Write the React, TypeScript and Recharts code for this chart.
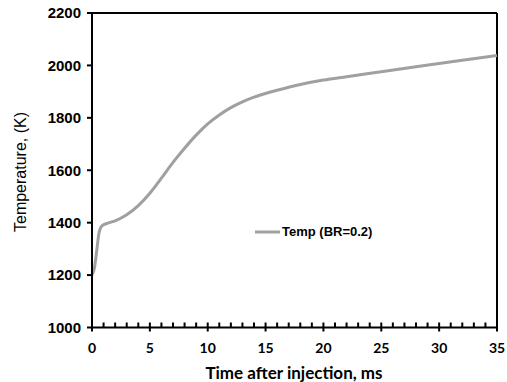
import { LineChart, Line, XAxis, YAxis, ReferenceLine, Legend, Label } from "recharts";

// time after injection, ms
const times = [0, 0.2, 0.4, 0.6, 0.8, 1, 1.5, 2, 3, 4, 5, 6, 7, 8, 9, 10, 11, 12, 13, 14, 15, 16, 18, 20, 22, 25, 28, 30, 32, 35];
// temperature, K (BR=0.2)
const temps = [1200, 1225, 1290, 1360, 1385, 1392, 1400, 1407, 1430, 1465, 1512, 1570, 1630, 1684, 1734, 1777, 1811, 1839, 1861, 1879, 1893, 1905, 1927, 1944, 1957, 1976, 1995, 2007, 2020, 2038];

const xTicks = Array.from({ length: 36 }, (_, i) => i);
const yTicks = [1000, 1200, 1400, 1600, 1800, 2000, 2200];

const data = times.map((t, i) => ({ t, temp: temps[i] }));

const LINE_COLOR = "#a0a0a0";

function XTick(props: any) {
    const { x, y, payload } = props;
    const major = payload.value % 5 === 0;
    return (
        <g>
            <line x1={x} x2={x} y1={y - 5} y2={major ? y + 4 : y} stroke="#000" strokeWidth={2} />
            {major && (
                <text x={x} y={y + 25} textAnchor="middle" fontFamily="Lato" fontWeight="bold" fontSize={14} fill="#000">
                    {payload.value}
                </text>
            )}
        </g>
    );
}

function LegendBox() {
    return (
        <div style={{ display: "flex", alignItems: "center", fontFamily: "Liberation Sans", fontWeight: "bold", fontSize: 13, color: "#000" }}>
            <svg width={27} height={6}>
                <line x1={0} x2={25} y1={3} y2={3} stroke={LINE_COLOR} strokeWidth={3} />
            </svg>
            <span>Temp (BR=0.2)</span>
        </div>
    );
}

export default function App() {
    return (
        <div style={{ position: "absolute", left: 0, top: 0 }}>
            <LineChart width={507} height={382} data={data} margin={{ top: 13, right: 10, left: 0, bottom: 0 }}>
                <XAxis
                    dataKey="t"
                    type="number"
                    domain={[0, 35]}
                    ticks={xTicks}
                    interval={0}
                    height={54.5}
                    tickSize={0}
                    tickMargin={0}
                    tickLine={false}
                    axisLine={{ stroke: "#000", strokeWidth: 2 }}
                    tick={<XTick />}
                >
                    <Label
                        content={() => (
                            <text x={294} y={379} textAnchor="middle" fontFamily="Lato" fontWeight="bold" fontSize={17} fill="#000">
                                Time after injection, ms
                            </text>
                        )}
                    />
                </XAxis>
                <YAxis
                    type="number"
                    domain={[1000, 2200]}
                    ticks={yTicks}
                    interval={0}
                    width={92}
                    tickSize={5}
                    tickMargin={6}
                    axisLine={{ stroke: "#000", strokeWidth: 2 }}
                    tickLine={{ stroke: "#000", strokeWidth: 2 }}
                    tick={{ fill: "#000", fontFamily: "Liberation Sans", fontWeight: "bold", fontSize: 15 }}
                >
                    <Label
                        content={() => (
                            <text x={26} y={172} transform="rotate(-90 26 172)" textAnchor="middle" fontFamily="Liberation Sans" fontSize={16} fill="#000">
                                Temperature, (K)
                            </text>
                        )}
                    />
                </YAxis>
                <ReferenceLine y={2200} stroke="#000" strokeWidth={2} />
                <ReferenceLine x={35} stroke="#000" strokeWidth={2} />
                <Line type="monotone" dataKey="temp" stroke={LINE_COLOR} strokeWidth={3} dot={false} isAnimationActive={false} />
                <Legend
                    layout="horizontal"
                    verticalAlign="middle"
                    align="center"
                    content={<LegendBox />}
                    wrapperStyle={{ position: "absolute", left: 255, top: 224, width: "auto" }}
                />
            </LineChart>
        </div>
    );
}
